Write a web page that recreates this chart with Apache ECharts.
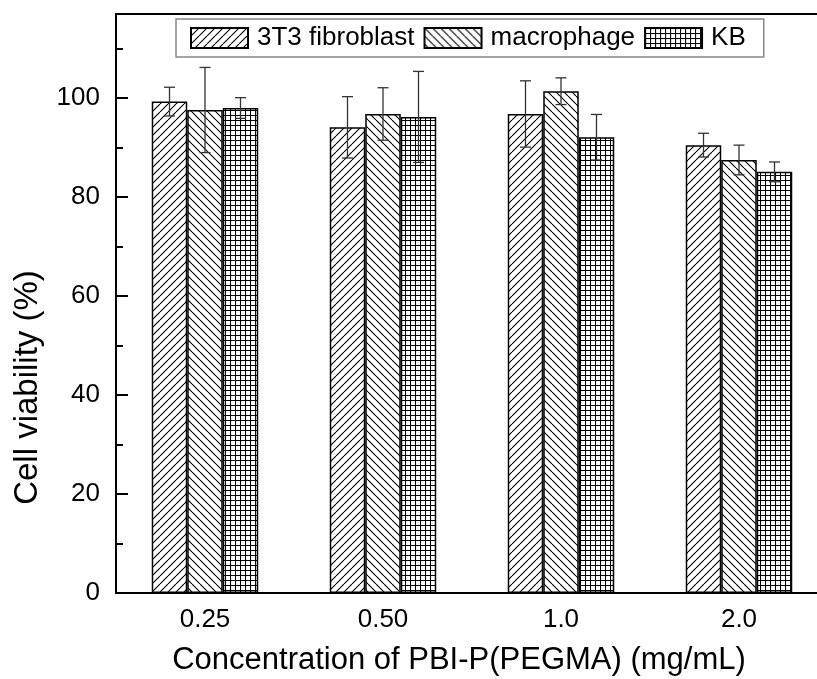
<!DOCTYPE html>
<html>
<head>
<meta charset="utf-8">
<script src="https://cdn.jsdelivr.net/npm/echarts@6/dist/echarts.min.js"></script>
<style>html,body{margin:0;padding:0;background:#fff;overflow:hidden;}#chart{width:817px;height:679px;}</style>
</head>
<body>
<div id="chart"></div>
<script>
const categories = ['0.25', '0.50', '1.0', '2.0'];
const seriesNames = ['3T3 fibroblast', 'macrophage', 'KB'];
const fibroblast = [99.3, 94.1, 96.8, 90.5];
const fibroblastErr = [2.9, 6.2, 6.7, 2.4];
const macrophage = [97.6, 96.8, 101.4, 87.5];
const macrophageErr = [8.6, 5.3, 2.7, 3.0];
const kb = [98.0, 96.2, 92.1, 85.1];
const kbErr = [2.1, 9.2, 4.6, 2.0];

const FONT = 'Liberation Sans, Arial, sans-serif';
const BAR_W = 35.5;

function makePattern(kind) {
  const s = kind === 'grid' ? 5 : 8;
  const c = document.createElement('canvas');
  c.width = s; c.height = s;
  const ctx = c.getContext('2d');
  ctx.fillStyle = '#fff';
  ctx.fillRect(0, 0, s, s);
  ctx.strokeStyle = '#000';
  ctx.lineWidth = 1.1;
  ctx.beginPath();
  if (kind === 'fwd') {
    for (const x0 of [-s, 0, s]) { ctx.moveTo(x0, s); ctx.lineTo(x0 + s, 0); }
  } else if (kind === 'back') {
    for (const x0 of [-s, 0, s]) { ctx.moveTo(x0, 0); ctx.lineTo(x0 + s, s); }
  } else {
    ctx.moveTo(0.5, 0); ctx.lineTo(0.5, s);
    ctx.moveTo(0, 0.5); ctx.lineTo(s, 0.5);
  }
  ctx.stroke();
  return { image: c, repeat: 'repeat' };
}

const patterns = [makePattern('fwd'), makePattern('back'), makePattern('grid')];
const values = [fibroblast, macrophage, kb];
const errs = [fibroblastErr, macrophageErr, kbErr];

const series = [];
values.forEach((vals, i) => {
  series.push({
    name: seriesNames[i],
    type: 'bar',
    data: vals,
    barWidth: BAR_W,
    barGap: '0%',
    itemStyle: { color: patterns[i], borderColor: '#000', borderWidth: 1.5 },
    emphasis: { disabled: true },
    z: 2
  });
});
values.forEach((vals, i) => {
  series.push({
    type: 'custom',
    name: seriesNames[i] + ' err',
    data: vals.map((v, j) => [j, v, errs[i][j]]),
    z: 5,
    renderItem: function (params, api) {
      const idx = api.value(0), v = api.value(1), e = api.value(2);
      const off = (i - 1) * BAR_W;
      const top = api.coord([idx, v + e]);
      const bot = api.coord([idx, v - e]);
      const x = top[0] + off;
      const cap = 5.5;
      const st = { stroke: '#333', lineWidth: 1.3 };
      return {
        type: 'group',
        children: [
          { type: 'line', shape: { x1: x, y1: top[1], x2: x, y2: bot[1] }, style: st },
          { type: 'line', shape: { x1: x - cap, y1: top[1], x2: x + cap, y2: top[1] }, style: st },
          { type: 'line', shape: { x1: x - cap, y1: bot[1], x2: x + cap, y2: bot[1] }, style: st }
        ]
      };
    }
  });
});

const chart = echarts.init(document.getElementById('chart'));
chart.setOption({
  animation: false,
  backgroundColor: '#fff',
  grid: { left: 116, top: 14, right: -11, bottom: 86, outerBoundsMode: 'none', containLabel: false, show: false },
  legend: {
    data: seriesNames,
    left: 176, top: 19,
    padding: [6, 18, 6, 14],
    borderColor: '#888', borderWidth: 1.5,
    itemWidth: 57, itemHeight: 20, itemGap: 9,
    icon: 'rect',
    selectedMode: false,
    textStyle: { fontSize: 26, fontFamily: FONT, color: '#000', lineHeight: 26, padding: [0, 0, 0, 4] }
  },
  xAxis: [{
    type: 'category',
    data: categories,
    name: 'Concentration of PBI-P(PEGMA) (mg/mL)',
    nameLocation: 'middle',
    nameGap: 52,
    nameTextStyle: { fontSize: 31, fontFamily: FONT, color: '#000', padding: [0, 26, 0, 0] },
    axisLine: { show: true, onZero: false, lineStyle: { color: '#000', width: 2 } },
    axisTick: { show: false },
    axisLabel: { fontSize: 26, fontFamily: FONT, color: '#000', margin: 14 }
  }, {
    type: 'category',
    data: categories,
    position: 'top',
    axisLine: { show: true, onZero: false, lineStyle: { color: '#000', width: 2 } },
    axisTick: { show: false },
    axisLabel: { show: false },
    splitLine: { show: false }
  }],
  yAxis: [{
    type: 'value',
    min: 0, max: 117, interval: 20,
    name: 'Cell viability (%)',
    nameLocation: 'middle',
    nameGap: 72,
    nameTextStyle: { fontSize: 33, fontFamily: FONT, color: '#000', padding: [0, 168, 0, 0] },
    axisLine: { show: true, lineStyle: { color: '#000', width: 2 } },
    axisTick: { show: true, inside: true, length: 12, lineStyle: { color: '#000', width: 2 } },
    axisLabel: { fontSize: 26, fontFamily: FONT, color: '#000', margin: 16, formatter: v => (v % 20 === 0 ? String(v) : '') },
    splitLine: { show: false }
  }, {
    type: 'value',
    min: 0, max: 117, interval: 10,
    position: 'left',
    axisLine: { show: false },
    axisTick: { show: true, inside: true, length: 7, lineStyle: { color: '#000', width: 2 } },
    axisLabel: { show: false },
    splitLine: { show: false }
  }],
  series: series
});
</script>
</body>
</html>
